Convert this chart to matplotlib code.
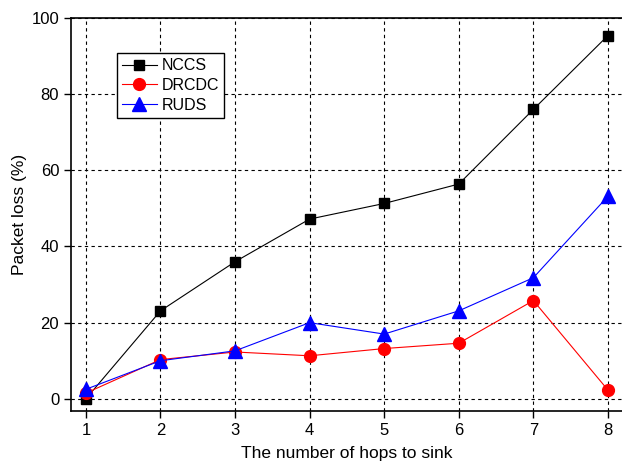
import matplotlib.pyplot as plt

plt.rcParams['font.family'] = ['Liberation Sans', 'DejaVu Sans']

hops = [1, 2, 3, 4, 5, 6, 7, 8]
nccs = [0.0, 23.1, 36.0, 47.2, 51.3, 56.4, 76.0, 95.4]
drcdc = [1.5, 10.3, 12.3, 11.3, 13.2, 14.6, 25.8, 2.3]
ruds = [2.5, 10.0, 12.6, 20.0, 17.0, 23.1, 31.8, 53.2]

fig = plt.figure(figsize=(6.22, 4.63), dpi=100)
ax = fig.add_axes([0.1141, 0.1123, 0.8873, 0.8488])

ax.plot(hops, nccs, color='black', marker='s', markersize=7.5, linewidth=0.8, label='NCCS', zorder=3)
ax.plot(hops, drcdc, color='red', marker='o', markersize=8.5, linewidth=0.8, label='DRCDC', zorder=3)
ax.plot(hops, ruds, color='blue', marker='^', markersize=9.5, linewidth=0.8, label='RUDS', zorder=4)

ax.set_xlim(0.8, 8.2)
ax.set_ylim(-3.2, 100)
ax.set_xticks(hops)
ax.set_yticks([0, 20, 40, 60, 80, 100])
ax.tick_params(direction='out', length=5, width=1, labelsize=12)
ax.grid(True, color='black', linestyle=(0, (3, 3)), linewidth=0.8)
for s in ax.spines.values():
    s.set_linewidth(1.2)

ax.set_xlabel('The number of hops to sink', fontsize=12.5, labelpad=6)
ax.set_ylabel('Packet loss (%)', fontsize=12.5, labelpad=3)

leg = ax.legend(loc='upper left', bbox_to_anchor=(0.083, 0.91), fontsize=11.5,
                fancybox=False, framealpha=1, edgecolor='black', handlelength=2.2,
                borderpad=0.3, labelspacing=0.3, handletextpad=0.3, borderaxespad=0)
leg.get_frame().set_linewidth(1)

fig.savefig('out.png', dpi=100)
